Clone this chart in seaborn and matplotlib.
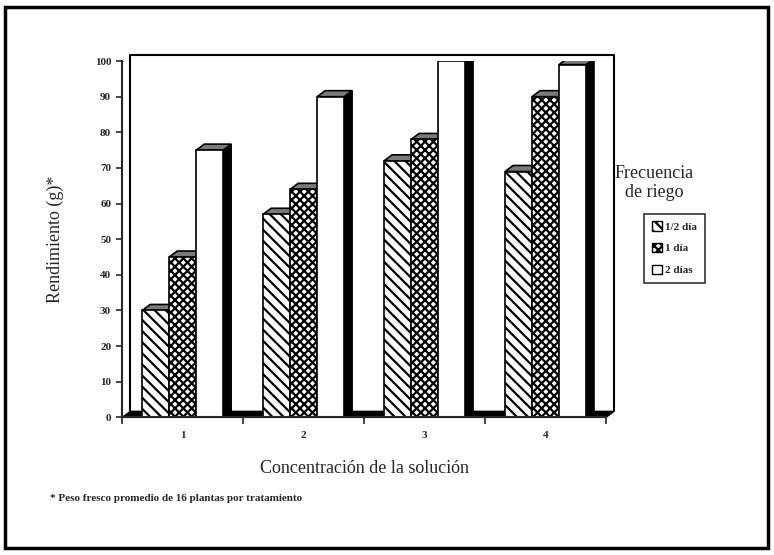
import numpy as np
import pandas as pd
import matplotlib.pyplot as plt
import matplotlib.transforms as mtransforms
from matplotlib.patches import Polygon, Rectangle
import seaborn as sns
sns.set_style('white')
plt.rcParams['font.family'] = ['Liberation Serif', 'DejaVu Serif']
plt.rcParams['hatch.linewidth'] = 1.6

# values
concentracion = ['1', '2', '3', '4']
medio_dia = [30, 57, 72, 69]
un_dia = [45, 64, 78, 90]
dos_dias = [75, 90, 100, 99]
series = ['1/2 día', '1 día', '2 días']
hatches = ['\\\\\\', 'xxxx', '']

df = pd.DataFrame({
    'conc': concentracion * 3,
    'frecuencia': [series[0]] * 4 + [series[1]] * 4 + [series[2]] * 4,
    'rend': medio_dia + un_dia + dos_dias,
})

fig = plt.figure(figsize=(7.74, 5.55), dpi=100)
ax = fig.add_axes([0.158, 0.248, 0.625, 0.642])

sns.barplot(data=df, x='conc', y='rend', hue='frecuencia', hue_order=series,
            palette=['white'] * 3, edgecolor='black', linewidth=1.2,
            width=0.67, gap=0, legend=False, ax=ax, zorder=3)

ax.set_ylim(0, 100)
ax.set_xlim(-0.5, 3.5)

# depth offset for the fake 3D look (in pixels)
pdx, pdy = 8, 6
off = mtransforms.ScaledTranslation(pdx / fig.dpi, pdy / fig.dpi, fig.dpi_scale_trans)

# back wall and dark floor
ax.plot([0, 0, 1, 1], [0, 1, 1, 0], color='black', lw=1.5,
        transform=ax.transAxes + off, clip_on=False, zorder=1)
fx0, fy0 = ax.transAxes.transform((0, 0))
fx1, fy1 = ax.transAxes.transform((1, 0))
floor = Polygon([(fx0, fy0), (fx1, fy1), (fx1 + pdx, fy1 + pdy), (fx0 + pdx, fy0 + pdy)],
                closed=True, facecolor='black', edgecolor='black', transform=None,
                clip_on=False, zorder=2)
ax.add_artist(floor)
tl = ax.transAxes.transform((0, 1))
ax.add_artist(plt.Line2D([tl[0], tl[0] + pdx], [tl[1], tl[1] + pdy], color='black', lw=1.5, transform=None))
ax.add_artist(plt.Line2D([fx1, fx1 + pdx], [fy1, fy1 + pdy], color='black', lw=1.5, transform=None))

# hatch each series, then add top and side faces from the bar geometry
for cont, h in zip(ax.containers, hatches):
    for bar in cont:
        bar.set_hatch(h)
        x0, y0 = bar.get_x(), bar.get_y()
        w, hgt = bar.get_width(), bar.get_height()
        p0 = ax.transData.transform((x0, y0))
        p1 = ax.transData.transform((x0 + w, y0 + hgt))
        side = Polygon([(p1[0], p0[1]), (p1[0], p1[1]), (p1[0] + pdx, p1[1] + pdy),
                        (p1[0] + pdx, p0[1] + pdy)], closed=True, facecolor='black',
                       edgecolor='black', lw=1, transform=None, zorder=2.5)
        top = Polygon([(p0[0], p1[1]), (p1[0], p1[1]), (p1[0] + pdx, p1[1] + pdy),
                       (p0[0] + pdx, p1[1] + pdy)], closed=True, facecolor='#7a7a7a',
                      edgecolor='black', lw=1.2, transform=None, zorder=2.5)
        ax.add_artist(side)
        ax.add_artist(top)

sns.despine(ax=ax)
for s in ['left', 'bottom']:
    ax.spines[s].set_linewidth(1.5)
    ax.spines[s].set_zorder(4)

ax.set_yticks(range(0, 101, 10))
ax.set_yticklabels([str(v) for v in range(0, 101, 10)], fontsize=8, fontweight='bold')
ax.tick_params(axis='y', direction='out', length=4, width=1.2, left=True, pad=4)
ax.set_xticks(range(4))
ax.set_xticklabels(concentracion, fontsize=8, fontweight='bold')
ax.set_xticks(np.arange(-0.5, 4, 1), minor=True)
ax.tick_params(axis='x', which='major', length=0, pad=10)
ax.tick_params(axis='x', which='minor', direction='out', length=5, width=1.2, bottom=True)

ax.set_ylabel('Rendimiento (g)*', fontsize=13, labelpad=22)
ax.set_xlabel('Concentración de la solución', fontsize=13, labelpad=14)

# legend
handles = [Rectangle((0, 0), 1, 1, facecolor='white', edgecolor='black', hatch=h) for h in hatches]
leg = fig.legend(handles, series, loc='upper left', bbox_to_anchor=(0.825, 0.625),
                 frameon=True, fancybox=False, edgecolor='black',
                 handlelength=0.9, handleheight=0.9, handletextpad=0.3,
                 labelspacing=1.0, borderpad=0.7, prop={'weight': 'bold', 'size': 8})
leg.get_frame().set_linewidth(1.2)
fig.text(0.845, 0.67, 'Frecuencia\nde riego', ha='center', va='center', fontsize=13, linespacing=1.1)

fig.text(0.065, 0.102, '* Peso fresco promedio de 16 plantas por tratamiento',
         fontsize=8, fontweight='bold', ha='left', va='center')

# outer frame
fig.add_artist(Rectangle((0.007, 0.012), 0.985, 0.975, transform=fig.transFigure,
                         fill=False, edgecolor='black', lw=2.5))

fig.savefig('out.png', dpi=100)
